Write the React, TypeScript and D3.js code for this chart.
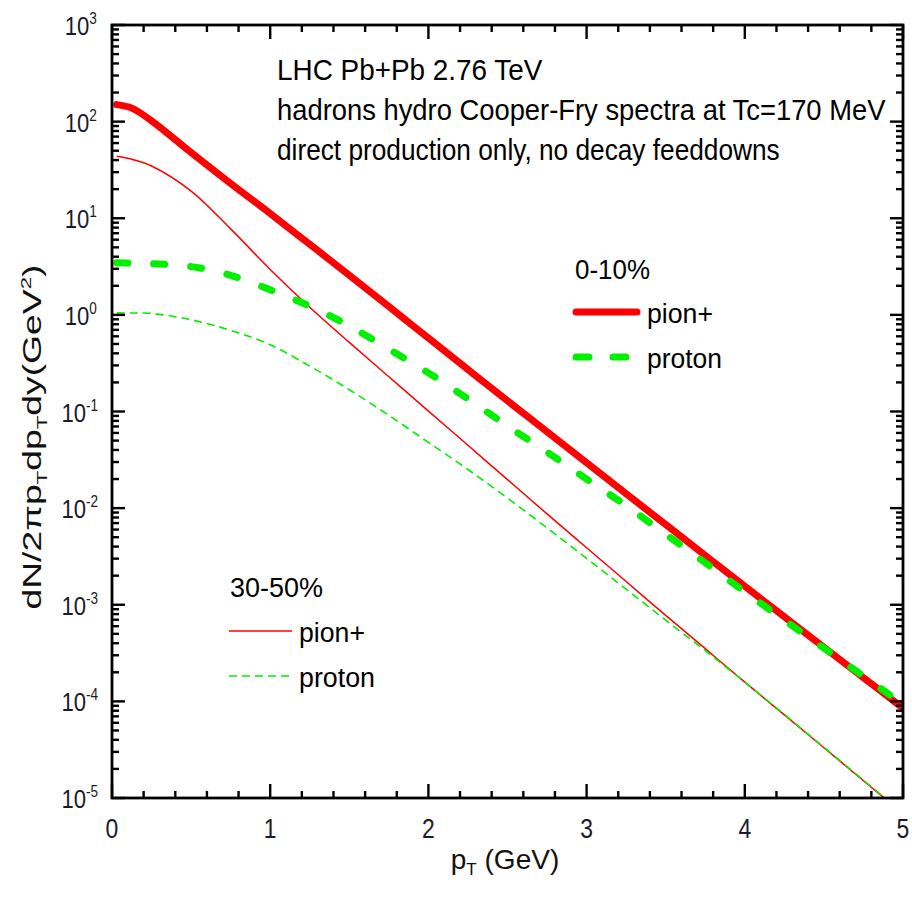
import React from "react";
import * as d3 from "d3";

const pT = [0.03, 0.125, 0.25, 0.5, 0.75, 1.0, 1.25, 1.5, 1.75, 2.0, 2.25, 2.5, 2.75, 3.0, 3.25, 3.5, 3.75, 4.0, 4.25, 4.5, 4.75, 5.0];

const pion0_10 = [150, 138, 102, 47.9, 22.9, 11.2, 5.37, 2.57, 1.22, 0.575, 0.272, 0.129, 0.0617, 0.0295, 0.0141, 0.00676, 0.00324, 0.00155, 0.00075, 0.000363, 0.000176, 0.0000851];
const proton0_10 = [3.47, 3.43, 3.39, 3.16, 2.57, 1.82, 1.23, 0.767, 0.442, 0.251, 0.135, 0.0708, 0.038, 0.02, 0.0106, 0.00537, 0.00272, 0.00136, 0.000692, 0.000355, 0.000182, 0.0000933];
const pion30_50 = [43.7, 40.7, 34.7, 19.1, 7.76, 2.95, 1.2, 0.519, 0.229, 0.101, 0.0447, 0.0197, 0.00871, 0.00389, 0.00174, 0.000776, 0.000351, 0.000158, 0.0000724, 0.0000331, 0.0000151, 0.00000692];
const proton30_50 = [1.05, 1.045, 1.035, 0.891, 0.692, 0.49, 0.295, 0.168, 0.0912, 0.0479, 0.0251, 0.0127, 0.00624, 0.00302, 0.00145, 0.000692, 0.000335, 0.000158, 0.0000733, 0.0000335, 0.0000153, 0.000007];

const xTickLabels = ["0", "1", "2", "3", "4", "5"];
const yDecades = [3, 2, 1, 0, -1, -2, -3, -4, -5];

const infoLines = [
  "LHC Pb+Pb 2.76 TeV",
  "hadrons hydro Cooper-Fry spectra at Tc=170 MeV",
  "direct production only, no decay feeddowns",
];
const infoSquash = [0.93, 0.912, 0.875];

const W = 912;
const H = 906;
const L = 112, R = 903, T = 25, B = 798;

const RED = "#ff0000";
const GREEN = "#00f000";
const FONT = "'Liberation Sans', Arial, sans-serif";

export default function App() {
  const x = d3.scaleLinear().domain([0, 5]).range([L, R]);
  const y = d3.scaleLog().domain([1e-5, 1e3]).range([B, T]);

  const line = (vals: number[]) =>
    d3
      .line<number>()
      .x((_, i) => x(pT[i]))
      .y((v) => y(v))
      .curve(d3.curveCatmullRom.alpha(0.5))(vals) as string;

  const xMinor = d3.range(0, 5.0001, 0.2);
  const yMinor: number[] = [];
  for (let dcd = -5; dcd < 3; dcd++) for (let k = 2; k <= 9; k++) yMinor.push(k * Math.pow(10, dcd));

  const axW = 2.8;
  const majL = 13, minL = 7;

  return (
    <svg width={W} height={H} style={{ position: "absolute", left: 0, top: 0, background: "#fff" }} fontFamily={FONT}>
      <defs>
        <clipPath id="plotclip">
          <rect x={L} y={T} width={R - L} height={B - T} />
        </clipPath>
      </defs>

      {/* curves */}
      <g clipPath="url(#plotclip)" fill="none" strokeLinejoin="round">
        <path d={line(pion30_50)} stroke={RED} strokeWidth={1.5} />
        <path d={line(proton30_50)} stroke={GREEN} strokeWidth={1.6} strokeDasharray="8,5" />
        <path d={line(pion0_10)} stroke={RED} strokeWidth={7} strokeLinecap="round" />
        <path d={line(proton0_10)} stroke={GREEN} strokeWidth={7} strokeDasharray="11,26" strokeLinecap="round" />
      </g>

      {/* axes frame */}
      <rect x={L} y={T} width={R - L} height={B - T} fill="none" stroke="#000" strokeWidth={axW} />

      {/* ticks */}
      <g stroke="#000" strokeWidth={2.4}>
        {xMinor.map((v, i) => {
          const isMaj = Math.abs(v - Math.round(v)) < 1e-6;
          const len = isMaj ? majL + 1 : minL;
          return (
            <g key={"xt" + i}>
              <line x1={x(v)} x2={x(v)} y1={B} y2={B - len} />
              <line x1={x(v)} x2={x(v)} y1={T} y2={T + len} />
            </g>
          );
        })}
        {yDecades.map((dcd) => (
          <g key={"yM" + dcd}>
            <line x1={L} x2={L + majL} y1={y(Math.pow(10, dcd))} y2={y(Math.pow(10, dcd))} />
            <line x1={R} x2={R - majL} y1={y(Math.pow(10, dcd))} y2={y(Math.pow(10, dcd))} />
          </g>
        ))}
        {yMinor.map((v, i) => (
          <g key={"ym" + i}>
            <line x1={L} x2={L + minL} y1={y(v)} y2={y(v)} />
            <line x1={R} x2={R - minL} y1={y(v)} y2={y(v)} />
          </g>
        ))}
      </g>

      {/* x tick labels */}
      <g fontSize={27} fill="#1a1a2a" textAnchor="middle">
        {xTickLabels.map((t, i) => (
          <text key={"xl" + i} transform={`translate(${x(i)},${B + 40}) scale(0.85,1)`}>
            {t}
          </text>
        ))}
      </g>

      {/* y tick labels */}
      <g fill="#1a1a2a">
        {yDecades.map((dcd) => {
          const yy = y(Math.pow(10, dcd));
          const sup = String(dcd);
          const off = dcd < 0 ? -13 : -9;
          return (
            <g key={"yl" + dcd} transform={`translate(97,${yy}) scale(0.85,1)`}>
              <text x={off} y={-1} fontSize={16} textAnchor="start">
                {sup}
              </text>
              <text x={off} y={10} fontSize={26} textAnchor="end">
                10
              </text>
            </g>
          );
        })}
      </g>

      {/* axis titles */}
      <text x={505} y={869} fontSize={28} textAnchor="middle" fill="#111">
        p<tspan fontSize={17} dy={6}>T</tspan>
        <tspan dy={-6}> (GeV)</tspan>
      </text>
      <text
        transform="translate(41,437) rotate(-90)"
        fontSize={25}
        textAnchor="middle"
        fill="#111"
        textLength={345}
        lengthAdjust="spacingAndGlyphs"
      >
        dN/2πp<tspan fontSize={15} dy={6}>T</tspan>
        <tspan dy={-6}>dp</tspan>
        <tspan fontSize={15} dy={6}>T</tspan>
        <tspan dy={-6}>dy(GeV</tspan>
        <tspan fontSize={15} dy={-10}>2</tspan>
        <tspan dy={10}>)</tspan>
      </text>

      {/* info text */}
      <g fontSize={30} fill="#000">
        {infoLines.map((s, i) => (
          <text key={"info" + i} transform={`translate(277,${80 + 40 * i}) scale(${infoSquash[i]},1)`}>
            {s}
          </text>
        ))}
      </g>

      {/* legend 0-10% */}
      <g fill="#000" fontSize={27}>
        <text x={575} y={279} textLength={75} lengthAdjust="spacingAndGlyphs">0-10%</text>
        <line x1={576} x2={637} y1={312} y2={312} stroke={RED} strokeWidth={7} strokeLinecap="round" />
        <text x={647} y={323} textLength={66} lengthAdjust="spacingAndGlyphs">pion+</text>
        <line x1={576} x2={640} y1={357} y2={357} stroke={GREEN} strokeWidth={7} strokeLinecap="round" strokeDasharray="13,24" />
        <text x={647} y={368} textLength={75} lengthAdjust="spacingAndGlyphs">proton</text>
      </g>

      {/* legend 30-50% */}
      <g fill="#000" fontSize={27}>
        <text x={230} y={597} textLength={93} lengthAdjust="spacingAndGlyphs">30-50%</text>
        <line x1={229} x2={292} y1={631} y2={631} stroke={RED} strokeWidth={1.5} />
        <text x={299} y={642} textLength={66} lengthAdjust="spacingAndGlyphs">pion+</text>
        <line x1={229} x2={294} y1={676} y2={676} stroke={GREEN} strokeWidth={1.6} strokeDasharray="8,5" />
        <text x={299} y={687} textLength={76} lengthAdjust="spacingAndGlyphs">proton</text>
      </g>
    </svg>
  );
}
